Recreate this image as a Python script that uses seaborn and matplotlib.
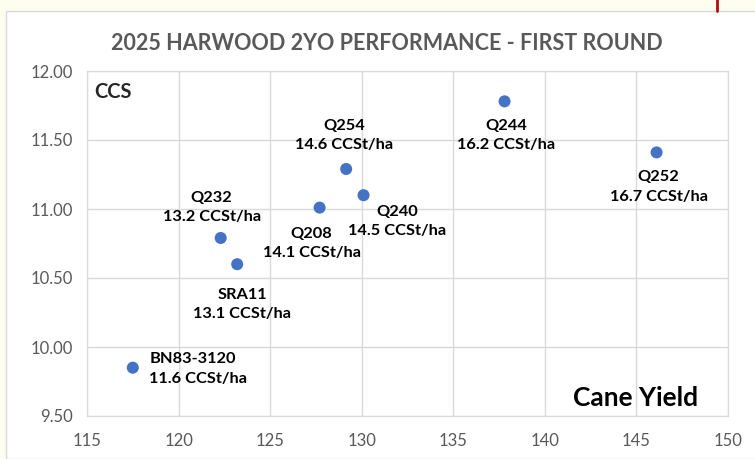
import matplotlib
matplotlib.use("Agg")
import matplotlib.pyplot as plt
import seaborn as sns
import pandas as pd
from matplotlib.patches import Rectangle
from matplotlib.lines import Line2D

# values
varieties = ['BN83-3120', 'Q232', 'SRA11', 'Q208', 'Q254', 'Q240', 'Q244', 'Q252']
cane_yield = [117.5, 122.3, 123.2, 127.7, 129.15, 130.1, 137.8, 146.1]
ccs = [9.85, 10.79, 10.60, 11.01, 11.29, 11.10, 11.78, 11.41]
ccs_t_ha = ['11.6', '13.2', '13.1', '14.1', '14.6', '14.5', '16.2', '16.7']

# label offsets in points (dx, dy) and alignment for each variety
label_pos = {
    'BN83-3120': (12, -1, 'left'),
    'Q232': (-6.5, 22, 'center'),
    'SRA11': (3.6, -29, 'center'),
    'Q208': (-5.8, -26, 'center'),
    'Q254': (-1.4, 24, 'center'),
    'Q240': (24, -19, 'center'),
    'Q244': (1, -24.5, 'center'),
    'Q252': (1.5, -25, 'center'),
}

df = pd.DataFrame({'variety': varieties, 'yield': cane_yield, 'ccs': ccs, 'tha': ccs_t_ha})

sns.set_style('white')
plt.rcParams['font.family'] = ['Lato', 'DejaVu Sans']

fig = plt.figure(figsize=(7.55, 4.59), dpi=100)
fig.patch.set_facecolor('#fefef0')

# white chart area with grey border
fig.add_artist(Rectangle((6 / 755, 0), 1.0, 1 - 11 / 459, transform=fig.transFigure,
                         facecolor='white', edgecolor='#d9d9d9', lw=1, zorder=0))
fig.add_artist(Line2D([717 / 755, 717 / 755], [1 - 11 / 459, 1], transform=fig.transFigure,
                      color='#b01010', lw=2))

ax = fig.add_axes([87 / 755, 1 - 416 / 459, (728 - 87) / 755, (416 - 71) / 459])
sns.scatterplot(data=df, x='yield', y='ccs', ax=ax, color='#4472c4', s=75,
                edgecolor='none', zorder=3)

ax.set_xlim(115, 150)
ax.set_ylim(9.5, 12.0)
ax.set_xticks(range(115, 151, 5))
ax.set_yticks([9.5, 10.0, 10.5, 11.0, 11.5, 12.0])
ax.set_yticklabels(['%.2f' % v for v in ax.get_yticks()])
ax.grid(True, color='#d9d9d9', lw=1)
for s in ax.spines.values():
    s.set_color('#d9d9d9')
ax.tick_params(axis='both', colors='#595959', labelsize=12, length=0)
ax.tick_params(axis='x', pad=12)
ax.tick_params(axis='y', pad=10)
ax.set_xlabel('')
ax.set_ylabel('')

for _, r in df.iterrows():
    dx, dy, ha = label_pos[r['variety']]
    ax.annotate(r['variety'] + '\n' + r['tha'] + ' CCSt/ha', (r['yield'], r['ccs']),
                xytext=(dx, dy), textcoords='offset points', ha=ha, va='center',
                fontsize=11.8, fontweight='bold', color='black', linespacing=1.5)

ax.text(0.012, 0.94, 'CCS', transform=ax.transAxes, fontsize=14.5, fontweight='bold',
        ha='left', va='center')
ax.text(0.953, 0.052, 'Cane Yield', transform=ax.transAxes, fontsize=19, fontweight='bold',
        ha='right', va='center', color='black')

fig.text(387 / 755, 1 - 44 / 459, '2025 HARWOOD 2YO PERFORMANCE - FIRST ROUND',
         ha='center', va='center', fontsize=15.5, fontweight='bold', color='#595959')

fig.savefig('out.png', dpi=100, facecolor=fig.get_facecolor())
